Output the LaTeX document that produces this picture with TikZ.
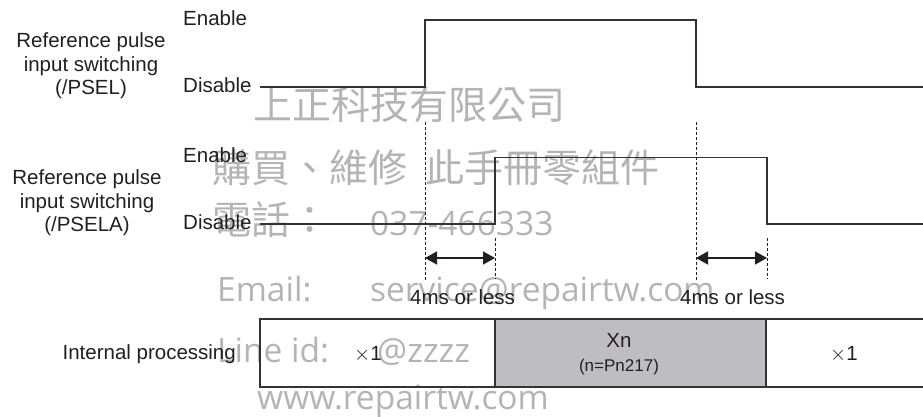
\documentclass[tikz,border=0pt]{standalone}
\usepackage{fontspec}
\setmainfont{Liberation Sans}
\newfontfamily\wmlatin{Open Sans}
\newfontfamily\wmcjk{Noto Sans CJK TC}
\definecolor{tmInk}{HTML}{231F20}
\definecolor{tmWire}{HTML}{333333}
\definecolor{tmFill}{HTML}{BEBEC0}
\definecolor{tmMark}{HTML}{B4B4B4}
\usetikzlibrary{arrows.meta}

\begin{document}
\begin{tikzpicture}[x=1pt, y=-1pt,
    lbl/.style={font=\fontsize{20.5}{23.5}\selectfont, text=tmInk, inner sep=0pt},
    wave/.style={tmWire, line width=1.6pt},
    guide/.style={tmInk, line width=0.9pt, dash pattern=on 3pt off 2pt},
    span/.style={{Triangle[length=12pt,width=13pt]}-{Triangle[length=12pt,width=13pt]}, line width=1.5pt, tmInk},
    cell/.style={draw=tmWire, line width=1.5pt},
    wmzh/.style={text=tmMark, inner sep=0pt, anchor=west, font=\wmcjk\fontsize{39}{39}\selectfont},
    wmen/.style={text=tmMark, inner sep=0pt, anchor=base west, font=\wmlatin\fontsize{33.5}{33.5}\selectfont}]
  \useasboundingbox (0,0) rectangle (923,416);

  % watermark
  \node[wmzh] (wmCo) at (253,105) {上正科技有限公司};
  \node[wmzh] (wmBuy) at (212,168) {購買、維修};
  \node[wmzh] (wmBook) at (425,168) {此手冊零組件};
  \node[wmzh] (wmTel) at (212,220) {電話：};
  \node[wmen] (wmTelNo) at (370,235) {037-466333};
  \node[wmen] (wmMailL) at (217,301) {Email:};
  \node[wmen] (wmMail) at (370,301) {service@repairtw.com};
  \node[wmen] (wmLineL) at (217,362) {Line id:};
  \node[wmen] (wmLine) at (377,362) {@zzzz};
  \node[wmen] (wmWeb) at (257,409) {www.repairtw.com};

  % /PSEL
  \node[lbl, align=center] (pselName) at (91,66) {Reference pulse\\input switching\\(/PSEL)};
  \node[lbl, anchor=west] (pselOn) at (183,18) {Enable};
  \node[lbl, anchor=west] (pselOff) at (183,85) {Disable};
  \draw[wave] (260,87) -- (425,87) -- (425,20) -- (696,20) -- (696,87) -- (923,87);

  % /PSELA
  \node[lbl, align=center] (pselaName) at (87,203) {Reference pulse\\input switching\\(/PSELA)};
  \node[lbl, anchor=west] (pselaOn) at (183,155) {Enable};
  \node[lbl, anchor=west] (pselaOff) at (183,222) {Disable};
  \draw[wave] (260,224) -- (495,224) -- (495,157.5) -- (767,157.5) -- (767,224) -- (923,224);

  % delays
  \coordinate (onA) at (425,122);
  \coordinate (onB) at (495,238);
  \coordinate (offA) at (696,122);
  \coordinate (offB) at (767,238);
  \draw[guide] (onA) -- ++(0,159);
  \draw[guide] (onB) -- ++(0,41);
  \draw[guide] (offA) -- ++(0,159);
  \draw[guide] (offB) -- ++(0,41);
  \draw[span] (onA |- 0,258) -- (onB |- 0,258);
  \draw[span] (offA |- 0,258) -- (offB |- 0,258);
  \node[lbl, anchor=base west] (onTime) at (410,304) {4ms or less};
  \node[lbl, anchor=base west] (offTime) at (680,304) {4ms or less};

  % internal processing
  \fill[tmFill] (495,319) rectangle (766,387);
  \draw[cell] (923,319) -- (260,319) -- (260,387) -- (923,387);
  \draw[cell] (495,319) -- (495,387);
  \draw[cell] (766,319) -- (766,387);
  \node[lbl, anchor=base east] (procName) at (236,359) {Internal processing};
  \node[lbl, anchor=base] (mulA) at (368,360) {$\times$1};
  \node[lbl, anchor=base] (mulN) at (619,347) {Xn};
  \node[lbl, font=\fontsize{17}{20}\selectfont, anchor=base] (mulNote) at (619,371) {(n=Pn217)};
  \node[lbl, anchor=base] (mulB) at (844,360) {$\times$1};
\end{tikzpicture}
\end{document}
